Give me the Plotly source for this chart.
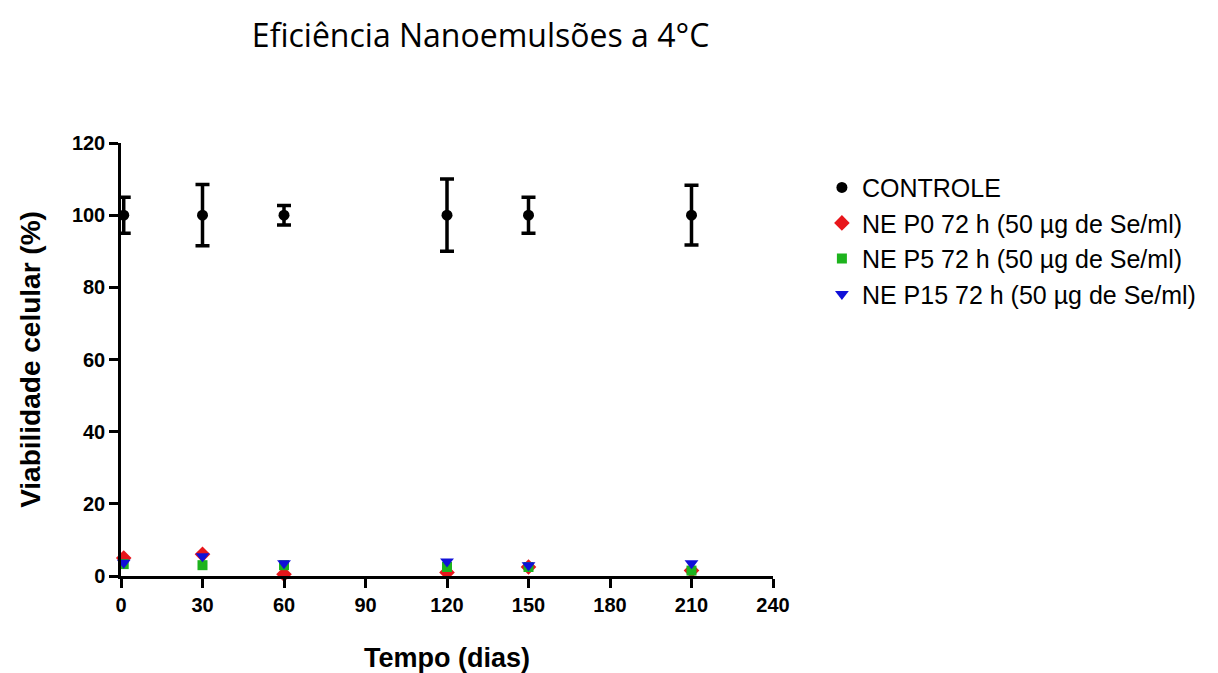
import plotly.graph_objects as go

dias = [1, 30, 60, 120, 150, 210]
controle = [100, 100, 100, 100, 100, 100]
controle_err = [5, 8.5, 2.7, 10, 5, 8.3]
ne_p0 = [5, 6, 0.5, 1, 2.5, 1.5]
ne_p5 = [3.3, 3, 3, 2.5, 2.5, 1.5]
ne_p15 = [3.7, 5.5, 3.5, 4, 3, 3.5]

names = ["CONTROLE", "NE P0 72 h (50 µg de Se/ml)", "NE P5 72 h (50 µg de Se/ml)",
         "NE P15 72 h (50 µg de Se/ml)"]

fig = go.Figure()
fig.add_trace(go.Scatter(
    x=dias, y=controle, mode="markers", name=names[0], legendgroup="a",
    marker=dict(symbol="circle", size=11, color="black"),
    error_y=dict(type="data", array=controle_err, color="black", thickness=3.5, width=7),
    cliponaxis=False))
fig.add_trace(go.Scatter(
    x=dias, y=ne_p0, mode="markers", name=names[1], legendgroup="b",
    marker=dict(symbol="diamond", size=12, color="#e8161b"), cliponaxis=False))
fig.add_trace(go.Scatter(
    x=dias, y=ne_p5, mode="markers", name=names[2], legendgroup="c",
    marker=dict(symbol="square", size=10, color="#1db31d"), cliponaxis=False))
fig.add_trace(go.Scatter(
    x=dias, y=ne_p15, mode="markers", name=names[3], legendgroup="d",
    marker=dict(symbol="triangle-down", size=12, color="#1010d8"), cliponaxis=False))

axis_font = dict(family="Liberation Sans, Arial", size=20, color="black", weight="bold")
fig.update_layout(
    width=1218, height=673,
    margin=dict(l=113, r=453, t=135, b=105),
    paper_bgcolor="white", plot_bgcolor="white",
    title=dict(text="Eficiência Nanoemulsões a 4°C", x=0.388, xanchor="center",
               y=0.958, yanchor="middle",
               font=dict(family="Open Sans, Noto Sans", size=32, color="black")),
    xaxis=dict(range=[0, 240], tickvals=[0, 30, 60, 90, 120, 150, 180, 210, 240],
               showgrid=False, zeroline=False, showline=True, linecolor="black", linewidth=2.5,
               ticks="outside", ticklen=9, tickwidth=2.5, tickcolor="black",
               tickfont=axis_font,
               title=dict(text="Tempo (dias)", standoff=34,
                          font=dict(family="Liberation Sans, Arial", size=27, color="black", weight="bold"))),
    yaxis=dict(range=[0, 120], tickvals=[0, 20, 40, 60, 80, 100, 120],
               showgrid=False, zeroline=False, showline=True, linecolor="black", linewidth=2.5,
               ticks="outside", ticklen=9, tickwidth=2.5, tickcolor="black",
               tickfont=axis_font,
               title=dict(text="Viabilidade celular (%)", standoff=24,
                          font=dict(family="Liberation Sans, Arial", size=28, color="black", weight="bold"))),
    legend=dict(x=1.075, y=0.95, xanchor="left", yanchor="top",
                traceorder="grouped", tracegroupgap=0,
                font=dict(family="Liberation Sans, Arial", size=25, color="black"),
                bgcolor="rgba(0,0,0,0)"),
)

fig.write_html("out.html")
